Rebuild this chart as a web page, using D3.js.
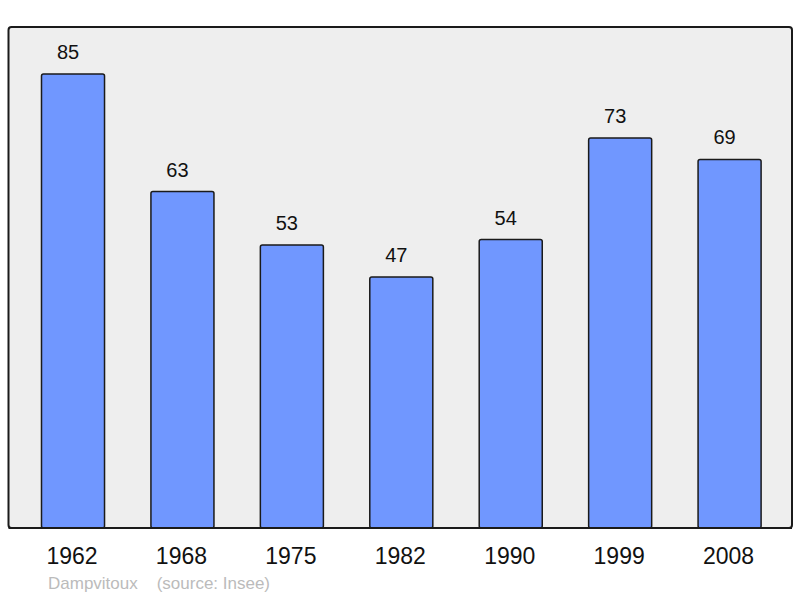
<!DOCTYPE html>
<html>
<head>
<meta charset="utf-8">
<script src="https://cdn.jsdelivr.net/npm/d3@7"></script>
<style>
  body { margin: 0; background: #fff; }
  text { font-family: "Liberation Sans", Arial, sans-serif; }
</style>
</head>
<body>
<svg id="chart" width="800" height="598"></svg>
<script>
const years = ['1962', '1968', '1975', '1982', '1990', '1999', '2008'];
const population = [85, 63, 53, 47, 54, 73, 69];
const sourceLabel = 'Dampvitoux    (source: Insee)';

const svg = d3.select('#chart');
const frame = { left: 8.5, top: 27, right: 792, bottom: 528 };

const x = d3.scaleBand()
  .domain(years)
  .range([18.3, 784.3])
  .paddingInner(0.424)
  .paddingOuter(0.212);

const y = d3.scaleLinear()
  .domain([0, 93.8])
  .range([frame.bottom, frame.top]);

svg.append('rect')
  .attr('x', frame.left)
  .attr('y', frame.top)
  .attr('width', frame.right - frame.left)
  .attr('height', frame.bottom - frame.top)
  .attr('rx', 3)
  .style('fill', '#eeeeee')
  .style('stroke', '#1a1a1a')
  .style('stroke-width', 2);

const data = years.map((yr, i) => ({ year: yr, value: population[i] }));

svg.selectAll('.bar')
  .data(data)
  .join('rect')
  .attr('class', 'bar')
  .attr('x', (d) => x(d.year))
  .attr('y', (d) => y(d.value))
  .attr('width', x.bandwidth())
  .attr('height', (d) => y(0) - y(d.value))
  .attr('rx', 2)
  .style('fill', '#7097ff')
  .style('stroke', '#1a1a1a')
  .style('stroke-width', 1.5);

// redraw frame bottom on top of bars
svg.append('line')
  .attr('x1', frame.left)
  .attr('x2', frame.right)
  .attr('y1', frame.bottom)
  .attr('y2', frame.bottom)
  .style('stroke', '#1a1a1a')
  .style('stroke-width', 2);

// value labels sit a little left of the bar centre in the original
svg.selectAll('.value-label')
  .data(data)
  .join('text')
  .attr('class', 'value-label')
  .attr('x', (d) => x(d.year) + x.bandwidth() / 2 - 5)
  .attr('y', (d) => y(d.value) - 15)
  .style('text-anchor', 'middle')
  .style('font-size', '20px')
  .style('fill', '#111')
  .text((d) => d.value);

svg.selectAll('.year-label')
  .data(years)
  .join('text')
  .attr('class', 'year-label')
  .attr('x', (d) => x(d) + x.bandwidth() / 2 - 1)
  .attr('y', 564)
  .style('text-anchor', 'middle')
  .style('font-size', '23px')
  .style('fill', '#111')
  .text((d) => d);

svg.append('text')
  .attr('x', 48)
  .attr('y', 589)
  .style('font-size', '17px')
  .style('fill', '#bbbbbb')
  .style('white-space', 'pre')
  .attr('xml:space', 'preserve')
  .text(sourceLabel);
</script>
</body>
</html>
